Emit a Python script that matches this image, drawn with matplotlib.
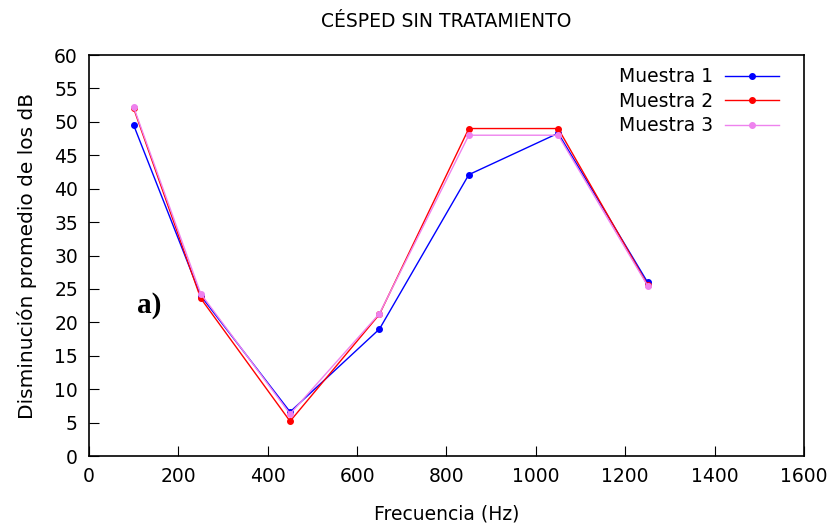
import matplotlib
matplotlib.use("Agg")
import matplotlib.pyplot as plt

frecuencia = [100, 250, 450, 650, 850, 1050, 1250]
muestra1 = [49.5, 24.0, 6.6, 19.0, 42.1, 48.3, 26.0]
muestra2 = [52.0, 23.6, 5.2, 21.2, 49.0, 49.0, 25.6]
muestra3 = [52.2, 24.3, 6.3, 21.3, 48.0, 48.0, 25.5]

series = [("Muestra 1", muestra1, "#0000ff"),
          ("Muestra 2", muestra2, "#ff0000"),
          ("Muestra 3", muestra3, "#ee82ee")]

plt.rcParams['font.family'] = ['DejaVu Sans']
fig = plt.figure(figsize=(8.34, 5.27), dpi=100)
ax = fig.add_axes([0.1067, 0.1347, 0.8573, 0.7609])

for name, vals, col in series:
    ax.plot(frecuencia, vals, '-', color=col, lw=1.0, marker='o', ms=4, label=name)

ax.set_xlim(0, 1600)
ax.set_ylim(0, 60)
ax.set_xticks(range(0, 1601, 200))
ax.set_yticks(range(0, 61, 5))
ax.tick_params(direction='in', length=7, width=0.8, labelsize=13.5, pad=8)
for s in ax.spines.values():
    s.set_linewidth(1.2)

ax.set_title("CÉSPED SIN TRATAMIENTO", fontsize=13.5, pad=20)
ax.set_xlabel("Frecuencia (Hz)", fontsize=13.5, labelpad=13)
ax.set_ylabel("Disminución promedio de los dB", fontsize=14.5, labelpad=12)

ax.text(107, 21.4, "a)", fontsize=21, fontweight='bold', family='Liberation Serif')

ax.legend(loc='upper right', bbox_to_anchor=(0.989, 1.012), frameon=False, fontsize=13.5,
          markerfirst=False, handlelength=2.9, labelspacing=0.3, handletextpad=0.6)

fig.savefig("out.png", dpi=100)
